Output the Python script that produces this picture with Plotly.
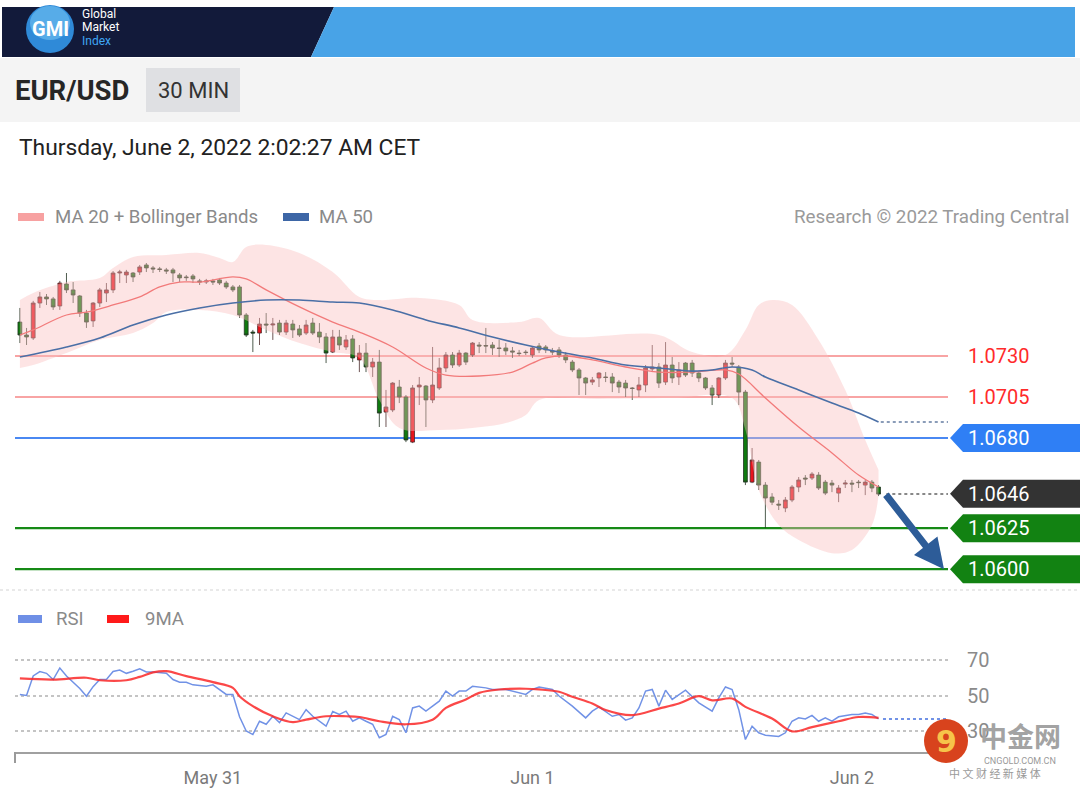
import pandas as pd
import plotly.graph_objects as go

# ---------------- DATA ----------------
bar_start = "2022-05-30 09:30"
n_bars = 130
open_ = [1.07507,1.07428,1.07410,1.07623,1.07660,1.07648,1.07605,1.07739,1.07703,1.07666,
1.07562,1.07514,1.07623,1.07684,1.07703,1.07806,1.07794,1.07806,1.07812,1.07855,
1.07837,1.07831,1.07825,1.07825,1.07794,1.07782,1.07788,1.07758,1.07751,1.07758,
1.07764,1.07745,1.07721,1.07721,1.07550,1.07446,1.07440,1.07495,1.07489,1.07501,
1.07446,1.07495,1.07465,1.07440,1.07501,1.07446,1.07416,1.07324,1.07416,1.07355,
1.07404,1.07276,1.07318,1.07233,1.07263,1.06958,1.06971,1.07111,1.07050,1.06775,
1.07111,1.07117,1.07032,1.07105,1.07227,1.07306,1.07245,1.07318,1.07306,1.07367,
1.07364,1.07367,1.07349,1.07349,1.07331,1.07318,1.07324,1.07306,1.07361,1.07355,
1.07331,1.07337,1.07306,1.07263,1.07215,1.07166,1.07141,1.07166,1.07172,1.07172,
1.07141,1.07135,1.07105,1.07093,1.07123,1.07221,1.07233,1.07141,1.07245,1.07172,
1.07257,1.07257,1.07196,1.07166,1.07105,1.07062,1.07166,1.07257,1.07233,1.07080,
1.06531,1.06653,1.06513,1.06440,1.06397,1.06373,1.06422,1.06501,1.06556,1.06556,
1.06574,1.06531,1.06525,1.06464,1.06519,1.06525,1.06531,1.06513,1.06531,1.06501]
high_ = [1.07593,1.07471,1.07636,1.07690,1.07678,1.07660,1.07758,1.07806,1.07751,1.07672,
1.07581,1.07629,1.07715,1.07745,1.07818,1.07825,1.07825,1.07812,1.07855,1.07867,
1.07849,1.07843,1.07837,1.07837,1.07806,1.07794,1.07800,1.07770,1.07770,1.07770,
1.07776,1.07758,1.07733,1.07733,1.07562,1.07459,1.07532,1.07562,1.07532,1.07520,
1.07520,1.07520,1.07489,1.07520,1.07532,1.07501,1.07440,1.07459,1.07459,1.07428,
1.07428,1.07367,1.07379,1.07288,1.07337,1.07093,1.07141,1.07154,1.07062,1.07123,
1.07172,1.07123,1.07355,1.07288,1.07324,1.07324,1.07337,1.07324,1.07385,1.07385,
1.07471,1.07385,1.07398,1.07379,1.07355,1.07337,1.07337,1.07355,1.07379,1.07367,
1.07349,1.07355,1.07324,1.07276,1.07227,1.07172,1.07172,1.07202,1.07202,1.07196,
1.07154,1.07154,1.07111,1.07172,1.07245,1.07367,1.07257,1.07385,1.07294,1.07263,
1.07263,1.07276,1.07202,1.07172,1.07123,1.07172,1.07276,1.07294,1.07245,1.07093,
1.06739,1.06666,1.06531,1.06464,1.06422,1.06440,1.06513,1.06562,1.06574,1.06592,
1.06592,1.06544,1.06544,1.06513,1.06544,1.06544,1.06544,1.06544,1.06544,1.06513]
low_ = [1.07379,1.07367,1.07398,1.07593,1.07611,1.07581,1.07581,1.07684,1.07623,1.07538,
1.07471,1.07477,1.07599,1.07629,1.07684,1.07745,1.07745,1.07751,1.07794,1.07812,
1.07806,1.07812,1.07800,1.07751,1.07751,1.07758,1.07745,1.07733,1.07739,1.07733,
1.07733,1.07709,1.07690,1.07532,1.07416,1.07324,1.07367,1.07440,1.07398,1.07428,
1.07428,1.07410,1.07416,1.07428,1.07428,1.07379,1.07257,1.07318,1.07337,1.07337,
1.07263,1.07202,1.07202,1.07172,1.06867,1.06867,1.06958,1.07013,1.06775,1.06769,
1.07001,1.06867,1.07013,1.07093,1.07202,1.07227,1.07233,1.07245,1.07294,1.07318,
1.07318,1.07306,1.07294,1.07306,1.07288,1.07300,1.07306,1.07288,1.07318,1.07318,
1.07306,1.07288,1.07257,1.07202,1.07062,1.07062,1.07123,1.07111,1.07141,1.07080,
1.07074,1.07050,1.07032,1.07050,1.07080,1.07202,1.07105,1.07123,1.07135,1.07123,
1.07172,1.07172,1.07141,1.07093,1.07001,1.07044,1.07154,1.07233,1.07001,1.06513,
1.06525,1.06483,1.06251,1.06391,1.06361,1.06348,1.06409,1.06470,1.06513,1.06544,
1.06483,1.06452,1.06470,1.06409,1.06495,1.06470,1.06495,1.06452,1.06470,1.06446]
close_ = [1.07428,1.07416,1.07623,1.07660,1.07648,1.07599,1.07745,1.07703,1.07672,1.07562,
1.07507,1.07623,1.07703,1.07703,1.07806,1.07812,1.07812,1.07782,1.07843,1.07837,
1.07831,1.07828,1.07818,1.07806,1.07776,1.07778,1.07770,1.07751,1.07758,1.07751,
1.07745,1.07721,1.07703,1.07550,1.07428,1.07440,1.07495,1.07489,1.07495,1.07446,
1.07501,1.07459,1.07428,1.07489,1.07440,1.07416,1.07318,1.07416,1.07367,1.07398,
1.07288,1.07318,1.07233,1.07263,1.06952,1.06989,1.07135,1.07050,1.06788,1.07105,
1.07123,1.07032,1.07123,1.07227,1.07306,1.07245,1.07318,1.07263,1.07379,1.07361,
1.07361,1.07349,1.07346,1.07331,1.07324,1.07315,1.07321,1.07349,1.07337,1.07337,
1.07324,1.07306,1.07276,1.07215,1.07166,1.07135,1.07154,1.07196,1.07169,1.07135,
1.07111,1.07105,1.07102,1.07123,1.07227,1.07233,1.07135,1.07245,1.07166,1.07215,
1.07184,1.07196,1.07166,1.07105,1.07062,1.07166,1.07257,1.07251,1.07080,1.06531,
1.06666,1.06513,1.06434,1.06409,1.06391,1.06422,1.06501,1.06544,1.06550,1.06580,
1.06495,1.06464,1.06513,1.06495,1.06525,1.06519,1.06528,1.06531,1.06495,1.06458]

# moving averages / bands read at sampled bar indices
ma20_idx = [0,2,7,10,14,18,21,24,27,32,34,37,42,47,51,56,61,64,69,74,77,79,82,86,91,96,101,106,108,112,117,122,126,129]
ma20_val = [1.07428,1.07459,1.07550,1.07568,1.07611,1.07660,1.07721,1.07751,1.07751,1.07782,1.07770,1.07703,
            1.07599,1.07507,1.07446,1.07355,1.07227,1.07184,1.07178,1.07202,1.07257,1.07288,1.07300,1.07276,
            1.07233,1.07202,1.07202,1.07215,1.07190,1.07044,1.06867,1.06709,1.06574,1.06501]
ma50_idx = [0,7,12,17,22,27,32,37,42,47,51,56,61,66,71,76,81,86,91,96,101,104,107,110,112,117,122,126,129]
ma50_val = [1.07294,1.07355,1.07410,1.07489,1.07550,1.07593,1.07623,1.07641,1.07641,1.07629,1.07623,1.07581,
            1.07520,1.07471,1.07416,1.07367,1.07324,1.07288,1.07245,1.07227,1.07208,1.07215,1.07233,1.07215,
            1.07172,1.07093,1.07013,1.06952,1.06897]
bb_up_idx = [0,2,7,12,14,17,22,27,30,32,34,37,42,47,51,54,60,66,68,75,78,81,96,101,106,109,111,113,116,120,124,127,129]
bb_up_val = [1.07641,1.07684,1.07751,1.07776,1.07837,1.07904,1.07916,1.07928,1.07898,1.07873,1.07965,1.07977,
             1.07928,1.07812,1.07660,1.07641,1.07654,1.07611,1.07520,1.07507,1.07532,1.07428,1.07428,1.07324,
             1.07306,1.07459,1.07611,1.07641,1.07611,1.07398,1.07093,1.06788,1.06605]
bb_lo_idx = [0,2,7,12,17,20,22,27,32,37,42,47,51,54,57,63,68,73,76,78,87,98,107,109,111,114,117,122,125,128,129]
bb_lo_val = [1.07227,1.07245,1.07318,1.07398,1.07440,1.07501,1.07568,1.07581,1.07550,1.07459,1.07379,1.07324,
             1.07288,1.07032,1.06861,1.06849,1.06861,1.06891,1.06940,1.07032,1.07038,1.07044,1.07044,1.06849,
             1.06483,1.06269,1.06178,1.06098,1.06117,1.06269,1.06452]

rsi_idx = [0,1,2,3,4,5,6,7,9,10,11,12,13,14,15,16,17,18,19,20,22,23,24,25,26,28,29,30,31,32,33,34,35,36,37,38,39,40,
           42,43,44,46,47,48,49,50,51,52,53,54,55,56,57,58,59,60,61,63,64,65,66,67,68,70,71,73,74,76,77,78,80,81,83,
           85,86,87,89,90,91,92,93,94,95,96,97,98,100,101,102,104,105,106,107,108,109,110,111,112,114,115,116,117,
           118,119,120,121,122,123,125,126,127,128,129]
rsi_val = [50.6,50,61,63.5,62.5,59,65.5,61,54,49.6,55,59,59,63.5,64.3,62.5,63.7,65,63.3,63.3,62.5,59,57.5,57.5,56,
           55.2,56,53.2,50.6,50.6,38,30,28,35.5,33.8,38.3,34.7,40.2,36.4,42,38.3,32.7,41,39.3,41.2,35.5,37.4,35.5,
           33.8,26.2,28.1,38.3,36.4,29,43,44,41.2,46.8,52.5,49.7,52.5,52.5,55.2,54.3,53.4,53.4,52.5,50.6,53.4,54.8,
           53.4,49.7,44,37.4,41.2,43.6,38.3,39.3,36.1,37.4,43,52.5,53.4,44,53,47.8,53,49.7,45.9,41.2,48.7,54.8,53.4,
           42,25.2,32.7,29,27.6,26.9,29,35.5,37.4,36.8,38.8,35.5,37.4,35.5,38,39.3,39.3,40.2,39.3,36.8]
rsi_ma_idx = [0,5,10,12,16,18,20,22,25,29,32,33,35,38,41,43,46,49,51,54,58,62,64,67,69,72,76,78,81,83,86,88,92,96,
              99,102,104,107,109,113,116,119,123,126,129]
rsi_ma_val = [59.6,59,60,58.6,58.6,60.5,63,63.7,60.9,57.5,54.3,49.6,44,38.3,35,36.4,38.3,38.3,37.9,35.5,33.8,36.4,
              43,47.8,51.5,53.4,53.8,53.4,52.1,49.3,45.5,41.8,38.9,42.6,45.5,49.6,47.3,48.3,43.6,37,29.8,32.2,35.5,
              37.9,37.4]

levels = [1.0730, 1.0705, 1.0680, 1.0646, 1.0625, 1.0600]
level_labels = ["1.0730", "1.0705", "1.0680", "1.0646", "1.0625", "1.0600"]
level_kind = ["text", "text", "box", "box", "box", "box"]
level_color = ["#ff2b2b", "#ff2b2b", "#2f7ff5", "#333333", "#128212", "#128212"]
line_color = ["#f8a4a4", "#f8a4a4", "#4a88f2", None, "#168a16", "#168a16"]
target_price = 1.0600
date_ticks = ["2022-05-31", "2022-06-01", "2022-06-02"]
date_tick_text = ["May 31", "Jun 1", "Jun 2"]

# ---------------- FIGURE ----------------
times = pd.date_range(bar_start, periods=n_bars, freq="30min")
x_start = pd.Timestamp("2022-05-30 09:08")
x_end = pd.Timestamp("2022-06-02 07:13")

W, H = 1080, 791
def PX(x): return x / W
def PY(y): return 1 - y / H

FONT = "Roboto"
fig = go.Figure()

# Bollinger band
fig.add_trace(go.Scatter(x=[times[i] for i in bb_up_idx], y=bb_up_val, mode="lines",
                         line=dict(width=0, shape="spline", smoothing=1.0), hoverinfo="skip",
                         xaxis="x", yaxis="y"))
fig.add_trace(go.Scatter(x=[times[i] for i in bb_lo_idx], y=bb_lo_val, mode="lines",
                         line=dict(width=0, shape="spline", smoothing=1.0), fill="tonexty",
                         fillcolor="rgba(251,190,190,0.42)", hoverinfo="skip", xaxis="x", yaxis="y"))
# MA lines
fig.add_trace(go.Scatter(x=[times[i] for i in ma20_idx], y=ma20_val, mode="lines",
                         line=dict(color="#f27a7a", width=1.3, shape="spline"), hoverinfo="skip"))
fig.add_trace(go.Scatter(x=[times[i] for i in ma50_idx], y=ma50_val, mode="lines",
                         line=dict(color="#4a6fa6", width=1.6, shape="spline"), hoverinfo="skip"))
fig.add_trace(go.Scatter(x=[times[-1] + pd.Timedelta("10min"), x_end], y=[ma50_val[-1]] * 2, mode="lines",
                         line=dict(color="#8a9cb8", width=2, dash="dot"), hoverinfo="skip"))
fig.add_trace(go.Scatter(x=[times[-1] + pd.Timedelta("35min"), x_end], y=[close_[-1]] * 2, mode="lines",
                         line=dict(color="#888888", width=2, dash="dot"), hoverinfo="skip"))
# candles
fig.add_trace(go.Candlestick(x=times, open=open_, high=high_, low=low_, close=close_,
                             increasing=dict(line=dict(color="#4a2a2a", width=0.8), fillcolor="#e8141c"),
                             decreasing=dict(line=dict(color="#223322", width=0.8), fillcolor="#0f7a0f"),
                             whiskerwidth=0, hoverinfo="skip", xaxis="x", yaxis="y"))
# RSI
fig.add_trace(go.Scatter(x=[times[i] for i in rsi_idx], y=rsi_val, mode="lines",
                         line=dict(color="#7192e6", width=1.5), hoverinfo="skip", xaxis="x2", yaxis="y2"))
fig.add_trace(go.Scatter(x=[times[i] for i in rsi_ma_idx], y=rsi_ma_val, mode="lines",
                         line=dict(color="rgba(250,40,40,0.85)", width=2.2, shape="spline"),
                         hoverinfo="skip", xaxis="x2", yaxis="y2"))
fig.add_trace(go.Scatter(x=[times[-1] + pd.Timedelta("20min"), x_end], y=[rsi_val[-1]] * 2, mode="lines",
                         line=dict(color="#7192e6", width=2, dash="dot"), hoverinfo="skip",
                         xaxis="x2", yaxis="y2"))

shapes = []
annotations = []

# price levels
half_h = 14 / 16400.0  # half tag height in price units
for lv, lab, kind, col, lcol in zip(levels, level_labels, level_kind, level_color, line_color):
    if lcol:
        shapes.append(dict(type="line", xref="x domain", yref="y", x0=0, x1=1, y0=lv, y1=lv,
                           line=dict(color=lcol, width=2.2), layer="below"))
    if kind == "box":
        path = (f"M {PX(950)},{lv} L {PX(963)},{lv + half_h} L {PX(1080)},{lv + half_h} "
                f"L {PX(1080)},{lv - half_h} L {PX(963)},{lv - half_h} Z")
        shapes.append(dict(type="path", xref="paper", yref="y", path=path, fillcolor=col,
                           line=dict(width=0), layer="above"))
        annotations.append(dict(x=PX(998), y=lv, xref="paper", yref="y", text=lab, showarrow=False,
                                font=dict(family=FONT, size=20, color="white"), xanchor="center",
                                yanchor="middle"))
    else:
        annotations.append(dict(x=PX(998), y=lv, xref="paper", yref="y", text=lab, showarrow=False,
                                font=dict(family=FONT, size=20, color=col), xanchor="center",
                                yanchor="middle"))

# arrow
annotations.append(dict(x=pd.Timestamp("2022-06-02 06:55"), y=target_price, xref="x", yref="y",
                        ax=pd.Timestamp("2022-06-02 02:28"), ay=close_[-1] + 0.00005, axref="x", ayref="y",
                        showarrow=True, arrowhead=2, arrowsize=0.85, arrowwidth=7, arrowcolor="#2d5c98",
                        text=""))

# header
shapes.append(dict(type="path", xref="paper", yref="paper",
                   path=f"M {PX(2)},{PY(7)} L {PX(334)},{PY(7)} L {PX(311)},{PY(57)} L {PX(2)},{PY(57)} Z",
                   fillcolor="#121a3a", line=dict(width=0)))
shapes.append(dict(type="path", xref="paper", yref="paper",
                   path=f"M {PX(334)},{PY(7)} L {PX(1075)},{PY(7)} L {PX(1075)},{PY(57)} L {PX(311)},{PY(57)} Z",
                   fillcolor="#48a3e7", line=dict(width=0)))
shapes.append(dict(type="circle", xref="paper", yref="paper", x0=PX(26), x1=PX(74), y0=PY(53), y1=PY(5),
                   fillcolor="#2f8ad8", line=dict(width=0)))
shapes.append(dict(type="circle", xref="paper", yref="paper", x0=PX(30), x1=PX(70), y0=PY(40), y1=PY(6),
                   fillcolor="rgba(120,200,245,0.55)", line=dict(width=0)))
annotations.append(dict(x=PX(50), y=PY(29), xref="paper", yref="paper", text="<b>GMI</b>", showarrow=False,
                        font=dict(family=FONT, size=20, color="white"), xanchor="center", yanchor="middle"))
for txt, yy, c in [("Global", 14, "white"), ("Market", 27, "white"), ("Index", 41, "#3fa6f5")]:
    annotations.append(dict(x=PX(80), y=PY(yy), xref="paper", yref="paper", text=txt, showarrow=False,
                            font=dict(family=FONT, size=12, color=c), xanchor="left", yanchor="middle"))
# grey band with title
shapes.append(dict(type="rect", xref="paper", yref="paper", x0=0, x1=1, y0=PY(122), y1=PY(58),
                   fillcolor="#f4f4f4", line=dict(width=0), layer="below"))
shapes.append(dict(type="rect", xref="paper", yref="paper", x0=PX(146), x1=PX(240), y0=PY(112), y1=PY(68),
                   fillcolor="#dfe0e3", line=dict(width=0), layer="below"))
annotations.append(dict(x=PX(13), y=PY(90), xref="paper", yref="paper", text="<b>EUR/USD</b>", showarrow=False,
                        font=dict(family=FONT, size=27.5, color="#262626"), xanchor="left", yanchor="middle"))
annotations.append(dict(x=PX(193), y=PY(90), xref="paper", yref="paper", text="30 MIN", showarrow=False,
                        font=dict(family=FONT, size=22, color="#333333"), xanchor="center", yanchor="middle"))
annotations.append(dict(x=PX(17), y=PY(147), xref="paper", yref="paper",
                        text="Thursday, June 2, 2022 2:02:27 AM CET", showarrow=False,
                        font=dict(family=FONT, size=22.8, color="#222222"), xanchor="left", yanchor="middle"))

# legends
def legend_item(x0, x1, y, color, text, tx, size=18.6):
    shapes.append(dict(type="rect", xref="paper", yref="paper", x0=PX(x0), x1=PX(x1), y0=PY(y + 4),
                       y1=PY(y - 4), fillcolor=color, line=dict(width=0)))
    annotations.append(dict(x=PX(tx), y=PY(y), xref="paper", yref="paper", text=text, showarrow=False,
                            font=dict(family=FONT, size=size, color="#8a8a8a"), xanchor="left",
                            yanchor="middle"))

legend_item(18, 44, 217, "#f7a1a1", "MA 20 + Bollinger Bands", 53)
legend_item(283, 309, 217, "#3d66a6", "MA 50", 317)
annotations.append(dict(x=PX(1071), y=PY(217), xref="paper", yref="paper",
                        text="Research © 2022 Trading Central", showarrow=False,
                        font=dict(family=FONT, size=18.8, color="#9a9a9a"), xanchor="right", yanchor="middle"))
legend_item(18, 42, 619, "#6f8fe6", "RSI", 54)
legend_item(107, 129, 619, "#ff1a1a", "9MA", 143)

# separator + axis tick
shapes.append(dict(type="line", xref="paper", yref="paper", x0=0, x1=1, y0=PY(590), y1=PY(590),
                   line=dict(color="#e2e2e2", width=1.5, dash="dot")))
shapes.append(dict(type="line", xref="paper", yref="paper", x0=PX(15), x1=PX(15), y0=PY(752), y1=PY(763),
                   line=dict(color="#9a9a9a", width=2)))

# watermark
shapes.append(dict(type="circle", xref="paper", yref="paper", x0=PX(924), x1=PX(968), y0=PY(763), y1=PY(719),
                   fillcolor="#d8431d", line=dict(width=0)))
annotations.append(dict(x=PX(946), y=PY(741), xref="paper", yref="paper", text="<b>9</b>", showarrow=False,
                        font=dict(family="DejaVu Sans", size=30, color="#f6c44a"), xanchor="center",
                        yanchor="middle"))
annotations.append(dict(x=PX(1020), y=PY(735), xref="paper", yref="paper", text="<b>中金网</b>", showarrow=False,
                        font=dict(family="Noto Sans CJK SC", size=27, color="#a3a3a3"), xanchor="center",
                        yanchor="middle"))
annotations.append(dict(x=PX(1020), y=PY(761), xref="paper", yref="paper", text="CNGOLD.COM.CN",
                        showarrow=False, font=dict(family=FONT, size=9, color="#9a9a9a"), xanchor="center",
                        yanchor="middle"))
annotations.append(dict(x=PX(995), y=PY(773), xref="paper", yref="paper", text="中 文 财 经 新 媒 体",
                        showarrow=False, font=dict(family="Noto Sans CJK SC", size=11, color="#9a9a9a"),
                        xanchor="center", yanchor="middle"))

fig.update_layout(
    width=W, height=H, margin=dict(l=0, r=0, t=0, b=0),
    paper_bgcolor="white", plot_bgcolor="rgba(0,0,0,0)", showlegend=False,
    font=dict(family=FONT), boxgap=0.18,
    xaxis=dict(domain=[PX(15), PX(948)], range=[x_start, x_end], showticklabels=False, showgrid=False,
               zeroline=False, rangeslider=dict(visible=False), anchor="y"),
    yaxis=dict(domain=[PY(588), PY(240)], range=[1.058854, 1.080073], showticklabels=False, showgrid=False,
               zeroline=False, anchor="x"),
    xaxis2=dict(domain=[PX(15), PX(948)], range=[x_start, x_end], matches="x", anchor="y2",
                tickvals=date_ticks, ticktext=date_tick_text, showgrid=False, zeroline=False,
                showline=True, linecolor="#a0a0a0", linewidth=2, ticks="",
                tickfont=dict(family=FONT, size=18, color="#7a7a7a"), ticklabelstandoff=8),
    yaxis2=dict(domain=[PY(752), PY(640)], range=[18.17, 81.27], side="right", anchor="x2",
                tickvals=[30, 50, 70], ticktext=["30", "50", "70"], showgrid=True, gridcolor="#c4c4c4",
                griddash="dot", gridwidth=1.5, zeroline=False, ticks="",
                tickfont=dict(family=FONT, size=20, color="#8a8a8a"), ticklabelstandoff=18),
    shapes=shapes, annotations=annotations,
)

fig.write_html("out.html", config={"displayModeBar": False},
               post_script="document.body.style.margin='0px';")
